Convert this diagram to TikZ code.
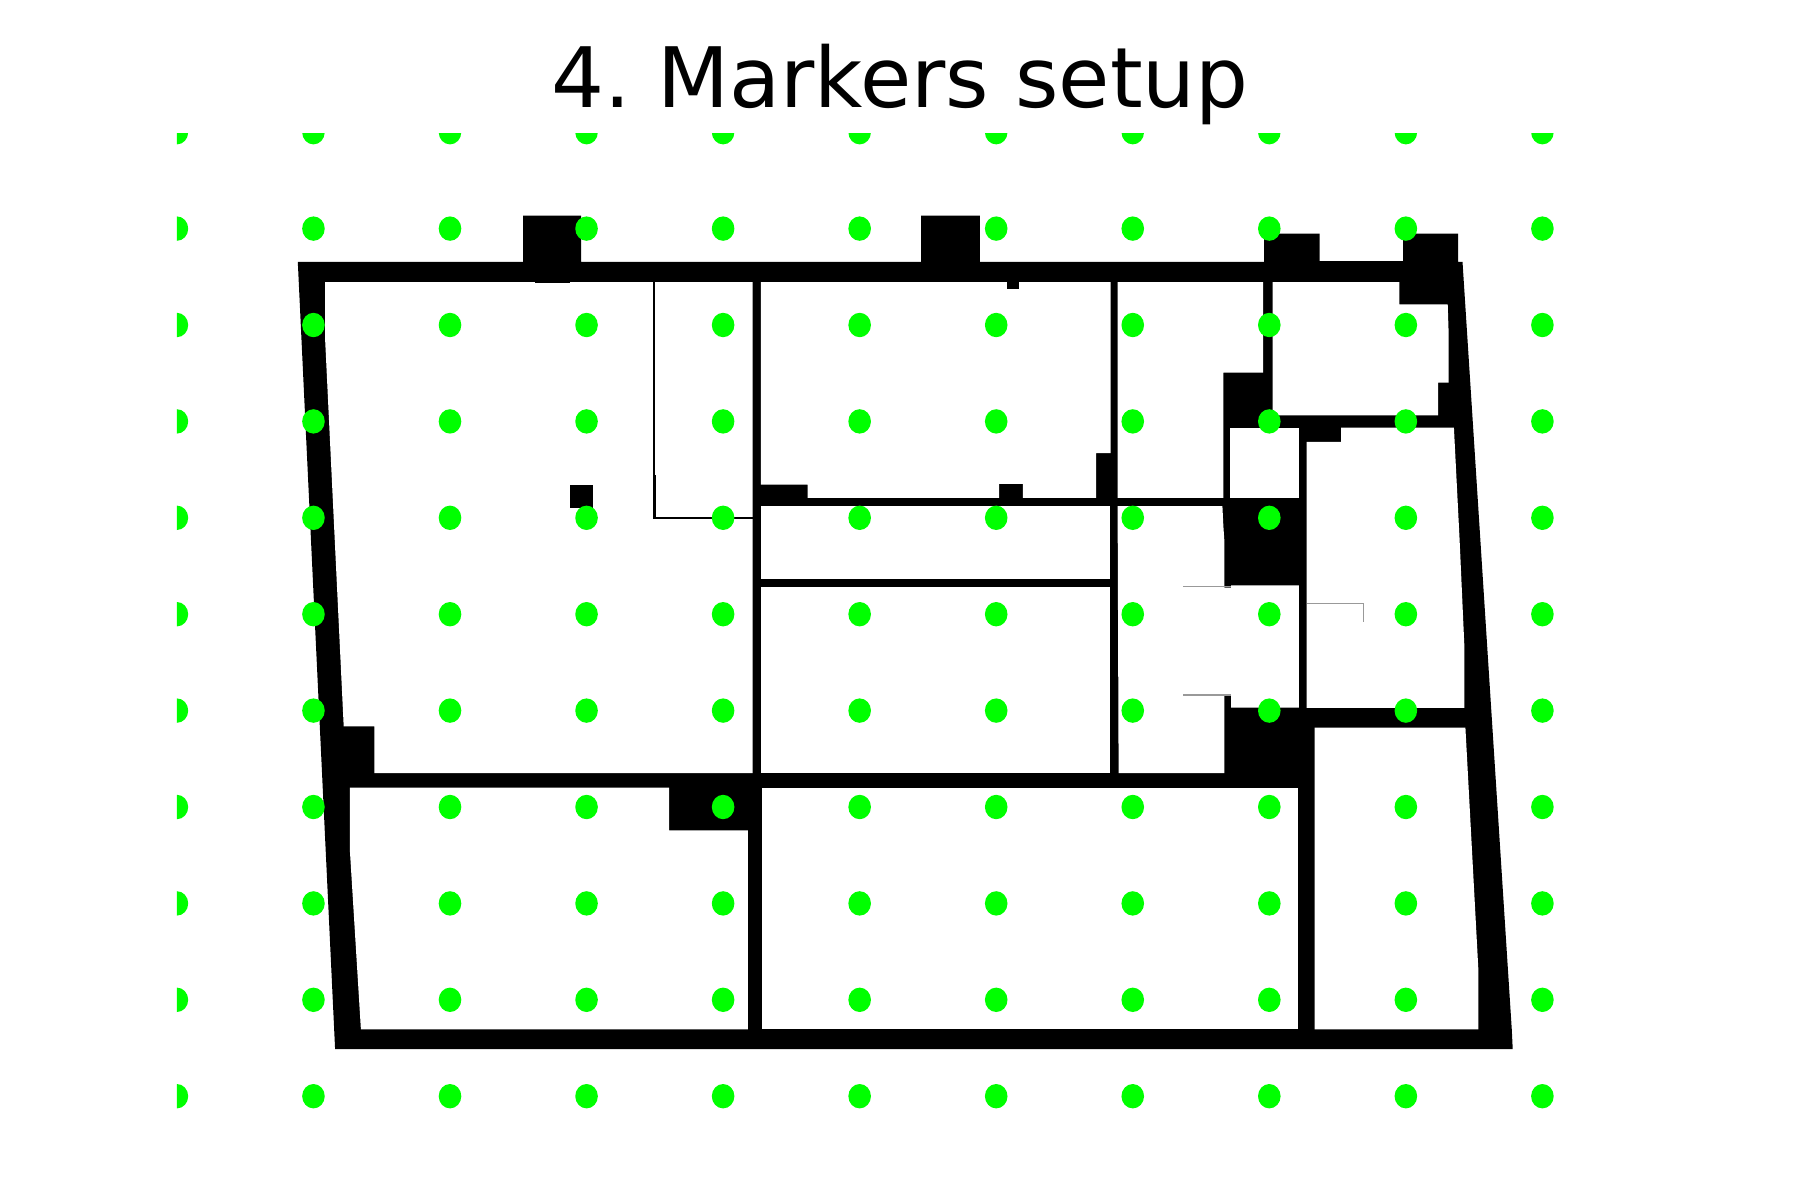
\documentclass[tikz,border=0pt]{standalone}
\usepackage{fontspec}
\setmainfont{DejaVu Sans}
\definecolor{marker}{RGB}{0,255,0}
\tikzset{
  wallmass/.style={fill=black},
  room/.style={fill=white},
  thinwall/.style={draw=black,line width=2pt,line join=miter},
  faintwall/.style={draw=black!40,line width=1.2pt},
  dot/.style={fill=marker},
}
\begin{document}
\frenchspacing
\begin{tikzpicture}[x=1pt,y=-1pt]
\useasboundingbox (0,0) rectangle (1800,1200);
\fill[white] (0,0) rectangle (1800,1200);
\node[anchor=base,inner sep=0pt,font=\fontsize{83.4}{84}\selectfont] (title) at (900,107) {4. Markers setup};
% outer mass
\fill[wallmass] (297.8,261.8) -- (523.1,261.8) -- (523.1,215.7) -- (581,215.7) -- (581,261.8)
  -- (921,261.8) -- (921,215.7) -- (979.9,215.7) -- (979.9,261.8) -- (1264,261.8)
  -- (1264,233.6) -- (1319.5,233.6) -- (1319.5,261) -- (1403.2,261) -- (1403.2,233.6)
  -- (1458.2,233.6) -- (1458.2,261.8) -- (1462.5,261.8) -- (1511.8,1030) -- (1512.7,1049)
  -- (335.1,1049) -- cycle;
% rooms
\fill[room] (325.1,282.1) -- (325.1,339) -- (343.7,726.4) -- (374.3,726.4) -- (374.3,773.2)
  -- (752.7,773.2) -- (752.7,282.1) -- cycle;
\fill[room] (760.8,282.1) -- (1110.5,282.1) -- (1110.5,453.2) -- (1096.1,453.2) -- (1096.1,497.9)
  -- (1022.9,497.9) -- (1022.9,483.9) -- (999,483.9) -- (999,497.9) -- (807.7,497.9)
  -- (807.7,484.6) -- (760.8,484.6) -- cycle;
\fill[room] (760.8,506.4) rectangle (1110,578.9);
\fill[room] (760.8,586.8) rectangle (1109.5,773.2);
\fill[room] (1117.6,282.1) -- (1263,282.1) -- (1263,372.5) -- (1223.3,372.5) -- (1223.3,497.9)
  -- (1117.6,497.9) -- cycle;
\fill[room] (1117.6,506) -- (1222.4,506) -- (1223.3,525) -- (1224.3,540) -- (1224.3,587.5)
  -- (1231,587.5) -- (1231,585.4) -- (1298.9,585.4) -- (1298.9,707.5) -- (1231,707.5)
  -- (1231,695) -- (1224.3,695) -- (1224.3,773.2) -- (1118.6,773.2) -- cycle;
\fill[room] (1229.6,427.5) rectangle (1298.9,497.9);
\fill[room] (1272.6,282.1) -- (1399.3,282.1) -- (1399.3,304.3) -- (1447.7,304.3) -- (1448.6,332)
  -- (1448.6,382.5) -- (1438.1,382.5) -- (1438.1,415.4) -- (1272.6,415.4) -- cycle;
\fill[room] (1341,427.5) -- (1453.9,427.5) -- (1459.6,540) -- (1464.4,647) -- (1464.4,707.9)
  -- (1306.6,707.9) -- (1306.6,441.8) -- (1341,441.8) -- cycle;
\fill[room] (1314.7,727.5) -- (1465.4,727.5) -- (1478.3,968.6) -- (1478.3,1029.3) -- (1314.7,1029.3) -- cycle;
\fill[room] (761.8,787.5) rectangle (1298.4,1029.3);
\fill[room] (349.9,787.5) -- (669,787.5) -- (669,830.4) -- (747.9,830.4) -- (747.9,1029.3)
  -- (360.9,1029.3) -- (349.9,850.7) -- cycle;
% small solids
\fill[wallmass] (569.5,485) rectangle (593.4,507.9);
\fill[wallmass] (1007.1,281) rectangle (1018.6,289.3);
\fill[wallmass] (535,281) rectangle (569.5,283);
% thin partitions
\draw[thinwall] (653.7,282) -- (653.7,517.9) -- (752.7,517.9);
\draw[thinwall] (654.7,475) -- (654.7,517);
\draw[faintwall] (1183.2,586.8) -- (1231,586.8);
\draw[faintwall] (1183.2,695) -- (1231,695);
\draw[faintwall] (1306.6,603.6) -- (1363.5,603.6) -- (1363.5,622.1);
% markers
\begin{scope}
\clip (176.8,133) rectangle (1800,1200);
\foreach \i in {0,...,10}
  \foreach \j in {0,...,10}
    \fill[dot] ({176.9+136.55*\i},{132.2+96.4*\j}) ellipse [x radius=11.3pt,y radius=12.2pt];
\end{scope}
\end{tikzpicture}
\end{document}
